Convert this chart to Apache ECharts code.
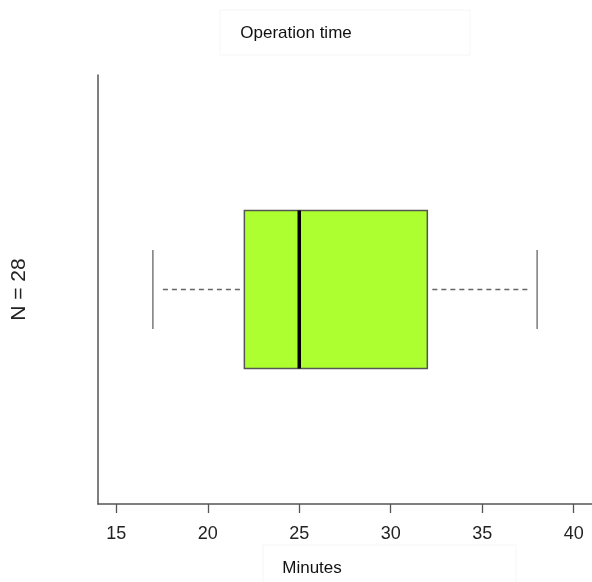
<!DOCTYPE html>
<html lang="en">
<head>
    <meta charset="UTF-8">
    <title>Operation time</title>
    <script src="https://cdn.jsdelivr.net/npm/echarts@6/dist/echarts.min.js"></script>
    <style>
        html, body { margin: 0; padding: 0; background: #fff; }
    </style>
</head>
<body>
<div id="chart_box" style="width: 592px;height: 582px"></div>
<script>
    // five-number summary
    var groups = ['N = 28'];
    var lowWhisker = [17];
    var q1 = [22];
    var median = [25];
    var q3 = [32];
    var highWhisker = [38];
    var tickValues = [15, 20, 25, 30, 35, 40];

    var boxData = [];
    for (var i = 0; i < groups.length; i++) {
        boxData.push([i, lowWhisker[i], q1[i], median[i], q3[i], highWhisker[i]]);
    }

    function renderBox(params, api) {
        var cat = api.value(0);
        var pLow = api.coord([api.value(1), cat]);
        var pQ1 = api.coord([api.value(2), cat]);
        var pMed = api.coord([api.value(3), cat]);
        var pQ3 = api.coord([api.value(4), cat]);
        var pHigh = api.coord([api.value(5), cat]);
        var band = api.size([0, 1])[1];
        var half = band * 0.184;
        var cap = half / 2;
        var y = pMed[1];
        var whisk = { stroke: '#666', lineWidth: 1.3 };
        var dash = { stroke: '#666', lineWidth: 1.3, lineDash: [5, 4] };
        return {
            type: 'group',
            children: [
                { type: 'line', shape: { x1: pLow[0] + 10, y1: y, x2: pQ1[0] - 2, y2: y }, style: dash },
                { type: 'line', shape: { x1: pQ3[0] + 5, y1: y, x2: pHigh[0] - 8, y2: y }, style: dash },
                { type: 'line', shape: { x1: pLow[0], y1: y - cap, x2: pLow[0], y2: y + cap }, style: whisk },
                { type: 'line', shape: { x1: pHigh[0], y1: y - cap, x2: pHigh[0], y2: y + cap }, style: whisk },
                { type: 'rect', shape: { x: pQ1[0], y: y - half, width: pQ3[0] - pQ1[0], height: half * 2 },
                  style: { fill: '#adff2f', stroke: '#555', lineWidth: 1.5 } },
                { type: 'line', shape: { x1: pMed[0], y1: y - half, x2: pMed[0], y2: y + half },
                  style: { stroke: '#000', lineWidth: 3.5 } }
            ]
        };
    }

    var option = {
        backgroundColor: '#fff',
        animation: false,
        textStyle: { fontFamily: 'Liberation Sans, Arial, sans-serif' },
        title: {
            text: 'Operation time',
            left: 'center',
            top: 20,
            textStyle: { fontSize: 17, fontWeight: 'normal', color: '#111' }
        },
        graphic: [
            { type: 'rect', shape: { x: 220, y: 10, width: 250, height: 45 },
              style: { fill: 'none', stroke: '#f6f6f6', lineWidth: 1 }, silent: true },
            { type: 'rect', shape: { x: 263, y: 545, width: 253, height: 40 },
              style: { fill: 'none', stroke: '#f6f6f6', lineWidth: 1 }, silent: true }
        ],
        grid: { left: 98, right: 0, top: 75, bottom: 78 },
        xAxis: {
            type: 'value',
            min: 14,
            max: 41,
            name: 'Minutes',
            nameLocation: 'middle',
            nameGap: 56,
            nameTextStyle: { fontSize: 17, color: '#111', padding: [0, 66, 0, 0] },
            splitLine: { show: false },
            axisLine: { show: true, lineStyle: { color: '#555', width: 1.5 } },
            axisTick: { show: true, length: 9, customValues: tickValues, lineStyle: { color: '#555', width: 1.3 } },
            axisLabel: { customValues: tickValues, fontSize: 18, color: '#222', margin: 21 }
        },
        yAxis: {
            type: 'category',
            data: groups,
            name: groups[0],
            nameLocation: 'middle',
            nameRotate: 90,
            nameGap: 68,
            nameTextStyle: { fontSize: 21, color: '#222' },
            axisLine: { show: true, lineStyle: { color: '#555', width: 1.5 } },
            axisTick: { show: false },
            axisLabel: { show: false },
            splitLine: { show: false }
        },
        series: [{
            type: 'custom',
            renderItem: renderBox,
            encode: { x: [1, 2, 3, 4, 5], y: 0 },
            data: boxData
        }]
    };

    var chart_box = echarts.init(document.getElementById('chart_box'));
    chart_box.setOption(option);
</script>
</body>
</html>
